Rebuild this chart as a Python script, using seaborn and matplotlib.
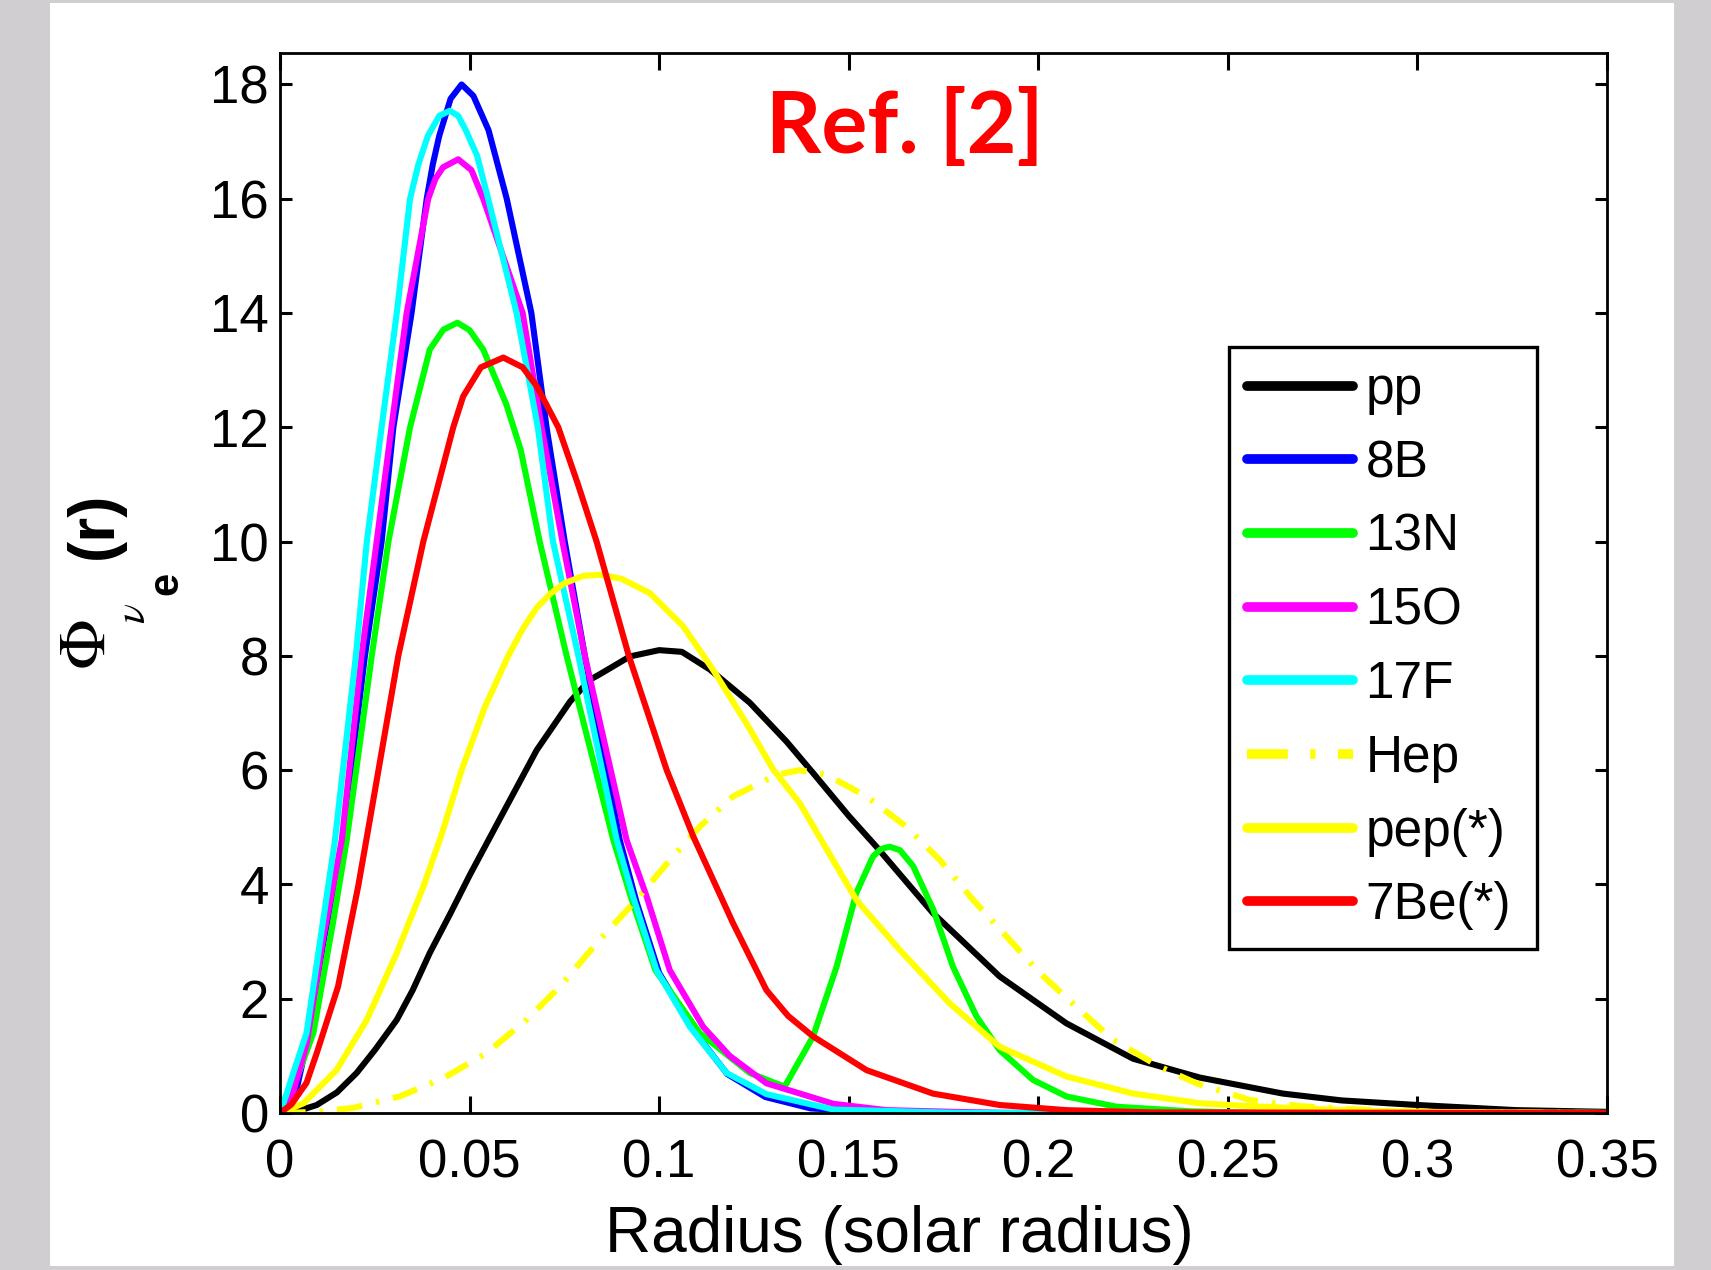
import matplotlib
matplotlib.use("Agg")
import matplotlib.pyplot as plt
from matplotlib.patches import Rectangle
import pandas as pd
import seaborn as sns

# neutrino production profiles: (radius, flux) pairs
pp = [(0, 0), (0.005, 0.04), (0.0097, 0.14), (0.015, 0.36), (0.0202, 0.70), (0.025, 1.1),
      (0.0308, 1.63), (0.035, 2.15), (0.0395, 2.80), (0.045, 3.5), (0.0501, 4.17), (0.058, 5.15),
      (0.0677, 6.35), (0.0765, 7.2), (0.0817, 7.58), (0.0844, 7.68), (0.0923, 7.99), (0.1, 8.10),
      (0.106, 8.07), (0.1134, 7.76), (0.1239, 7.18), (0.1336, 6.5), (0.1406, 5.95), (0.15, 5.2),
      (0.1573, 4.66), (0.1722, 3.50), (0.1898, 2.39), (0.2074, 1.57), (0.225, 0.95), (0.2426, 0.62),
      (0.2645, 0.34), (0.28, 0.22), (0.30, 0.14), (0.326, 0.05), (0.35, 0.02)]
b8 = [(0, 0), (0.004, 0.3), (0.007, 1.2), (0.0115, 3.0), (0.0165, 4.78), (0.0224, 8), (0.0268, 10),
      (0.0299, 12), (0.0347, 14), (0.0387, 16), (0.0403, 16.6), (0.042, 17.1), (0.045, 17.75),
      (0.0479, 18.0), (0.051, 17.8), (0.055, 17.2), (0.0598, 16), (0.0663, 14), (0.0703, 12),
      (0.0751, 10), (0.0804, 8), (0.0896, 4.78), (0.094, 3.7), (0.1, 2.45), (0.109, 1.45),
      (0.118, 0.68), (0.128, 0.28), (0.14, 0.08), (0.16, 0.01), (0.2, 0), (0.35, 0)]
n13 = [(0, 0), (0.003, 0.35), (0.0088, 1.4), (0.0141, 3.38), (0.0176, 4.78), (0.0242, 8), (0.0286, 10),
       (0.0343, 12), (0.0395, 13.36), (0.0431, 13.71), (0.0468, 13.83), (0.05, 13.7), (0.0536, 13.36),
       (0.0597, 12.4), (0.0635, 11.6), (0.0685, 10), (0.0756, 8), (0.0879, 4.78), (0.0925, 3.79),
       (0.099, 2.5), (0.1107, 1.4), (0.1239, 0.7), (0.1331, 0.46), (0.1406, 1.34), (0.1468, 2.56),
       (0.152, 3.85), (0.1564, 4.49), (0.1585, 4.62), (0.1608, 4.66), (0.1635, 4.6), (0.167, 4.32),
       (0.1723, 3.56), (0.1775, 2.56), (0.1837, 1.69), (0.1898, 1.10), (0.1986, 0.58), (0.2074, 0.29),
       (0.2206, 0.11), (0.24, 0.03), (0.26, 0), (0.35, 0)]
o15 = [(0, 0), (0.003, 0.25), (0.007, 1.2), (0.0115, 3.1), (0.0163, 4.78), (0.0215, 8), (0.0255, 10),
       (0.0294, 12), (0.0334, 14), (0.0391, 16), (0.041, 16.35), (0.043, 16.55), (0.047, 16.69),
       (0.0505, 16.5), (0.0536, 16), (0.064, 14), (0.069, 12), (0.0745, 10), (0.0804, 8), (0.0914, 4.78),
       (0.0967, 3.79), (0.1028, 2.50), (0.1116, 1.51), (0.1186, 1.0), (0.1283, 0.52), (0.146, 0.16),
       (0.16, 0.05), (0.19, 0), (0.35, 0)]
f17 = [(0, 0), (0.0018, 0.35), (0.004, 0.8), (0.007, 1.4), (0.0114, 3.38), (0.0145, 4.78), (0.020, 8),
       (0.0229, 10), (0.0268, 12), (0.0308, 14), (0.0343, 16), (0.0365, 16.6), (0.039, 17.1),
       (0.042, 17.45), (0.0448, 17.54), (0.047, 17.45), (0.049, 17.2), (0.052, 16.75), (0.0549, 16),
       (0.0624, 14), (0.068, 12), (0.072, 10), (0.0787, 8), (0.0888, 4.78), (0.0931, 3.79),
       (0.0993, 2.50), (0.1081, 1.51), (0.1178, 0.70), (0.1283, 0.33), (0.146, 0.06), (0.18, 0), (0.35, 0)]
hep = [(0, 0), (0.01, 0.02), (0.0193, 0.09), (0.0316, 0.29), (0.0431, 0.61), (0.0545, 1.05), (0.065, 1.63),
       (0.0738, 2.21), (0.0835, 2.97), (0.094, 3.73), (0.1025, 4.4), (0.1107, 5.01), (0.1195, 5.54),
       (0.131, 5.92), (0.137, 6.0), (0.1441, 5.92), (0.1547, 5.54), (0.1652, 5.01), (0.174, 4.43),
       (0.1828, 3.73), (0.1916, 3.09), (0.2004, 2.45), (0.21, 1.86), (0.2197, 1.28), (0.232, 0.81),
       (0.2417, 0.52), (0.2557, 0.23), (0.269, 0.12), (0.29, 0.04), (0.31, 0.01), (0.35, 0)]
pep = [(0, 0), (0.0062, 0.17), (0.0149, 0.75), (0.0229, 1.63), (0.0308, 2.80), (0.0378, 3.96),
       (0.0425, 4.85), (0.0479, 6.0), (0.054, 7.1), (0.0602, 8.0), (0.064, 8.47), (0.0677, 8.84),
       (0.0715, 9.1), (0.075, 9.27), (0.08, 9.4), (0.0844, 9.42), (0.09, 9.35), (0.0975, 9.10),
       (0.1063, 8.52), (0.1142, 7.76), (0.123, 6.82), (0.1301, 6.01), (0.1371, 5.42), (0.152, 3.73),
       (0.1635, 2.85), (0.1766, 1.92), (0.1898, 1.16), (0.2074, 0.64), (0.225, 0.34), (0.2426, 0.17),
       (0.2557, 0.12), (0.28, 0.05), (0.3, 0.02), (0.35, 0)]
be7 = [(0, 0), (0.003, 0.15), (0.007, 0.53), (0.0097, 1.05), (0.0153, 2.21), (0.0206, 3.96), (0.0237, 5.13),
       (0.0312, 8), (0.0378, 10), (0.0457, 12), (0.0483, 12.54), (0.053, 13.05), (0.0589, 13.22),
       (0.064, 13.05), (0.0677, 12.72), (0.0734, 12.0), (0.0786, 11.0), (0.0835, 10), (0.092, 8),
       (0.102, 6), (0.109, 4.84), (0.1195, 3.32), (0.1283, 2.15), (0.134, 1.7), (0.1406, 1.34),
       (0.1547, 0.75), (0.1722, 0.34), (0.1898, 0.14), (0.2074, 0.05), (0.23, 0.01), (0.35, 0)]

names = ['pp', '8B', '13N', '15O', '17F', 'Hep', 'pep(*)', '7Be(*)']
curves = [pp, b8, n13, o15, f17, hep, pep, be7]
colors = ['#000000', '#0000ff', '#00ff00', '#ff00ff', '#00ffff', '#ffff00', '#ffff00', '#ff0000']

xticks = [0, 0.05, 0.1, 0.15, 0.2, 0.25, 0.3, 0.35]
xticklabels = ['0', '0.05', '0.1', '0.15', '0.2', '0.25', '0.3', '0.35']
yticks = [0, 2, 4, 6, 8, 10, 12, 14, 16, 18]

rows = []
for name, pts in zip(names, curves):
    for r, phi in pts:
        rows.append((name, r, phi))
df = pd.DataFrame(rows, columns=['source', 'radius', 'phi'])

sns.set_style('ticks')
plt.rcParams['font.family'] = ['Liberation Sans', 'DejaVu Sans']
plt.rcParams['mathtext.fontset'] = 'stix'
plt.rcParams['text.color'] = 'black'
plt.rcParams['axes.labelcolor'] = 'black'

W, H = 1711, 1270
fig = plt.figure(figsize=(17.11, 12.70), dpi=100, facecolor='#d0ced0')
fig.patches.append(Rectangle((50 / W, 4 / H), 1624 / W, 1263 / H,
                             transform=fig.transFigure, facecolor='white',
                             edgecolor='none', zorder=-1))
ax = fig.add_axes([280 / W, 157 / H, 1327 / W, 1060 / H])

for name, color in zip(names, colors):
    ls = (0, (4.2, 2.3, 0.55, 2.3)) if name == 'Hep' else '-'
    sns.lineplot(data=df[df.source == name], x='radius', y='phi', color=color,
                 linewidth=4.4, linestyle=ls, estimator=None, label=name, ax=ax)
for line in ax.lines:
    line.set_linewidth(4.4)

ax.set_xlim(0, 0.35)
ax.set_ylim(0, 18.55)
ax.set_xticks(xticks)
ax.set_xticklabels(xticklabels)
ax.set_yticks(yticks)
for s in ax.spines.values():
    s.set_visible(True)
    s.set_linewidth(2)
    s.set_color('black')
ax.tick_params(axis='both', direction='in', top=True, right=True, width=2.2,
               colors='black', labelsize=38)
ax.tick_params(axis='x', length=12, pad=18)
ax.tick_params(axis='y', length=8.3, pad=8)

ax.set_xlabel('Radius (solar radius)', fontsize=46, color='black')
ax.xaxis.set_label_coords(0.467, -0.087)
ax.set_ylabel('')

# y label built from pieces, rotated like the original
fig.text(88 / W, 1 - 645 / H, r'$\Phi$', fontsize=48, rotation=90, ha='center', va='center')
fig.text(134 / W, 1 - 613 / H, r'$\nu$', fontsize=30, rotation=90, ha='center', va='center')
fig.text(166 / W, 1 - 583 / H, 'e', fontsize=30, fontweight='bold', rotation=90,
         ha='center', va='center')
fig.text(95 / W, 1 - 525 / H, '(r)', fontsize=46, fontweight='bold', rotation=90,
         ha='center', va='center')

leg = ax.legend(loc='upper left', bbox_to_anchor=(0.715, 0, 0.232, 0.7226), mode='expand',
                fontsize=37, frameon=True, fancybox=False, framealpha=1, edgecolor='black',
                borderpad=0.36, labelspacing=0.48, handlelength=2.05, handletextpad=0.25,
                borderaxespad=0)
leg.get_frame().set_linewidth(2.4)
for line in leg.get_lines():
    line.set_linewidth(7)
for t in leg.get_texts():
    t.set_color('black')

fig.text(905 / W, 1 - 153 / H, 'Ref. [2]', color='#ff0000', fontsize=62,
         fontweight='bold', family=['Lato', 'DejaVu Sans'], ha='center', va='baseline')

plt.savefig('out.png', dpi=100, facecolor=fig.get_facecolor())
plt.close()
